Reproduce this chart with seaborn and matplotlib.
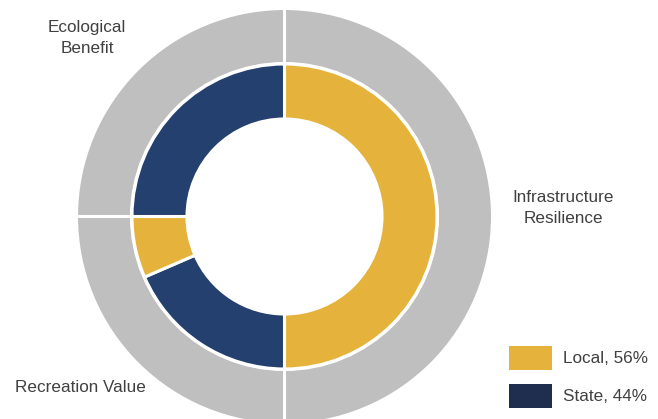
import matplotlib.pyplot as plt
import seaborn as sns
from matplotlib.patches import Patch

# Outer ring: benefit categories
outer_labels = ["Infrastructure\nResilience", "Recreation Value", "Ecological\nBenefit"]
outer_values = [50, 25, 25]

# Inner ring: funding source split within each category (clockwise from top)
inner_groups = ["Local", "State", "Local", "State"]
inner_values = [50, 18.5, 6.5, 25]

legend_labels = ["Local, 56%", "State, 44%"]

GRAY = "#BFBFBF"
pie_colors = {"Local": "#E5B33B", "State": "#24406E"}
legend_colors = {"Local": "#E5B33B", "State": "#1F2D4E"}
TEXT = "#404040"

sns.set_theme(style="white")
plt.rcParams['font.family'] = ['Liberation Sans', 'DejaVu Sans']

fig = plt.figure(figsize=(6.58, 4.19), dpi=100)
ax = fig.add_axes([0, 0, 1, 1])

cx, cy = 284.5, 419 - 216.5
edge = dict(edgecolor="white", linewidth=2.2)

ax.pie(outer_values, colors=[GRAY] * len(outer_values), radius=208,
       center=(cx, cy), startangle=90, counterclock=False,
       wedgeprops=dict(width=55, **edge))
ax.pie(inner_values, colors=[pie_colors[g] for g in inner_groups],
       radius=152.5, center=(cx, cy), startangle=90, counterclock=False,
       wedgeprops=dict(width=55, **edge))

ax.set_xlim(0, 658)
ax.set_ylim(0, 419)
ax.set_aspect("equal")
ax.axis("off")

label_pos = {
    "Infrastructure\nResilience": (563.5, 211),
    "Recreation Value": (80.5, 31),
    "Ecological\nBenefit": (87, 381),
}
for lab in outer_labels:
    x, y = label_pos[lab]
    ax.text(x, y, lab, ha="center", va="center", multialignment="center",
            fontsize=12.3, color=TEXT, linespacing=1.5)

handles = [Patch(facecolor=legend_colors[g], edgecolor="none")
           for g in ["Local", "State"]]
fig.legend(handles, legend_labels, loc="upper left",
           bbox_to_anchor=(509 / 658, 1 - 346 / 419), frameon=False,
           fontsize=12.3, handlelength=2.5, handleheight=1.78,
           labelspacing=0.82, handletextpad=0.65, borderpad=0,
           borderaxespad=0, labelcolor=TEXT)

fig.savefig("out.png", dpi=100)
